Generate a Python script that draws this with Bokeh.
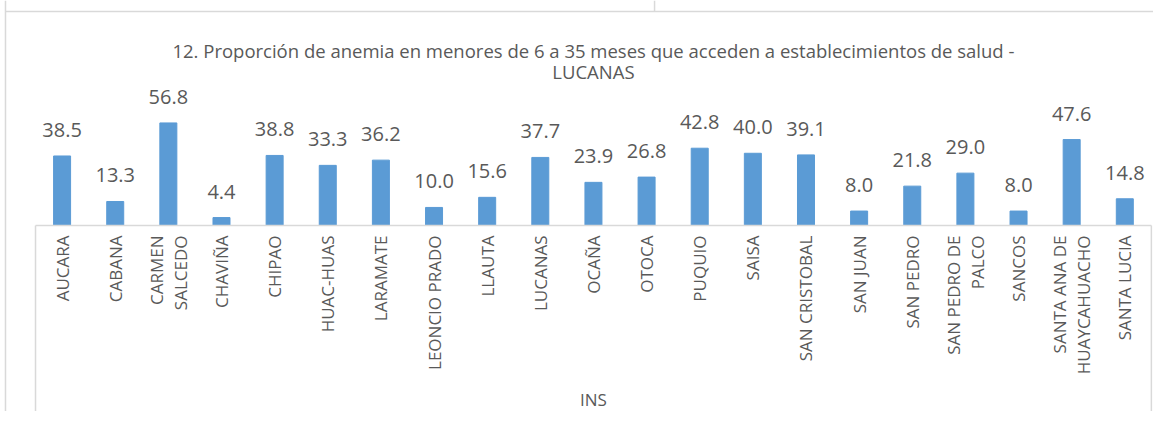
import numpy as np
from bokeh.plotting import figure
from bokeh.models import Range1d, ColumnDataSource
from bokeh.core.properties import value
from bokeh.embed import file_html
from bokeh.resources import INLINE

title_lines = ["12. Proporción de anemia en menores de 6 a 35 meses que acceden a establecimientos de salud -",
               "LUCANAS"]
group_label = "INS"
categories = ["AUCARA", "CABANA", "CARMEN\nSALCEDO", "CHAVIÑA", "CHIPAO", "HUAC-HUAS", "LARAMATE",
              "LEONCIO PRADO", "LLAUTA", "LUCANAS", "OCAÑA", "OTOCA", "PUQUIO", "SAISA",
              "SAN CRISTOBAL", "SAN JUAN", "SAN PEDRO", "SAN PEDRO DE\nPALCO", "SANCOS",
              "SANTA ANA DE\nHUAYCAHUACHO", "SANTA LUCIA"]
values = [38.5, 13.3, 56.8, 4.4, 38.8, 33.3, 36.2, 10.0, 15.6, 37.7, 23.9, 26.8, 42.8, 40.0,
          39.1, 8.0, 21.8, 29.0, 8.0, 47.6, 14.8]

FONT = value("Open Sans")
TXT = "#595959"
GRID = "#D9D9D9"
BAR = "#5B9BD5"

n = len(categories)
xs = np.arange(n) + 0.5
src = ColumnDataSource(dict(x=xs, top=values, cat=categories,
                            lab=[f"{v:.1f}" for v in values]))

x0, x1 = -0.659, 21.04
y0, y1 = -103.0, 124.6

p = figure(width=1153, height=411, x_range=Range1d(x0, x1), y_range=Range1d(y0, y1),
           x_axis_type=None, y_axis_type=None, toolbar_location=None,
           output_backend="svg", min_border=0)
p.outline_line_color = None
p.background_fill_color = "white"
p.border_fill_color = "white"

# surrounding cell / chart-area borders
p.segment(x0=[-0.565, -0.565, 11.65], y0=[118.5, y0, 118.5], x1=[x1, -0.565, 11.65],
          y1=[118.5, y1, y1], line_color=GRID, line_width=1.5)

p.vbar(x="x", top="top", bottom=0, width=0.32, source=src, fill_color=BAR, line_color=BAR)

# category axis line and group separators
p.segment(x0=[0, 0, n], y0=[0, 0, 0], x1=[n, 0, n], y1=[0, y0, y0], line_color=GRID, line_width=1.5)

p.text(x="x", y="top", text="lab", source=src, text_font=FONT, text_font_size="20px",
       text_color=TXT, text_align="center", text_baseline="alphabetic", y_offset=-26)

p.text(x="x", y=0, text="cat", source=src, text_font=FONT, text_font_size="17px",
       text_color=TXT, text_align="right", text_baseline="middle", angle=np.pi / 2,
       y_offset=10, text_line_height=1.02)

p.text(x=[n / 2], y=[y0], text=[group_label], text_font=FONT, text_font_size="17px",
       text_color=TXT, text_align="center", text_baseline="alphabetic", y_offset=-12)

p.text(x=[n / 2, n / 2], y=[y1, y1], text=title_lines, text_font=FONT, text_font_size="18.5px",
       text_color=TXT, text_align="center", text_baseline="alphabetic", y_offset=[50, 71])

open("out.html", "w").write(file_html(p, INLINE))
